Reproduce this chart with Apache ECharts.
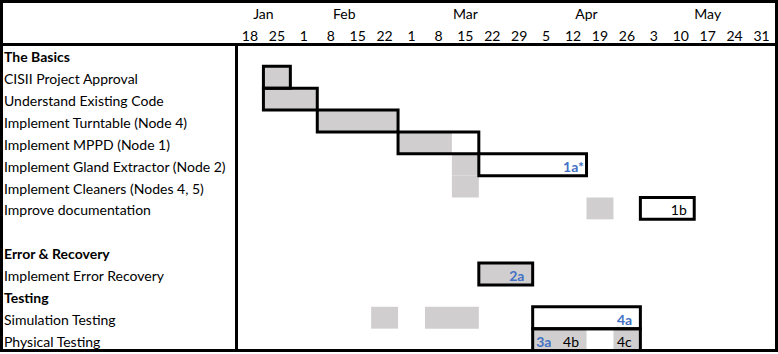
<!DOCTYPE html>
<html>
<head>
<meta charset="utf-8">
<script src="https://cdn.jsdelivr.net/npm/echarts@6/dist/echarts.min.js"></script>
<style>
html,body{margin:0;padding:0;background:#fff;}
#chart{width:778px;height:354px;}
</style>
</head>
<body>
<div id="chart"></div>
<script>
// ---- data ----
const rowLabels = [
  'The Basics',
  'CISII Project Approval',
  'Understand Existing Code',
  'Implement Turntable (Node 4)',
  'Implement MPPD (Node 1)',
  'Implement Gland Extractor (Node 2)',
  'Implement Cleaners (Nodes 4, 5)',
  'Improve documentation',
  '',
  'Error & Recovery',
  'Implement Error Recovery',
  'Testing',
  'Simulation Testing',
  'Physical Testing'
];
const sectionRows = ['The Basics', 'Error & Recovery', 'Testing'];
const weekLabels = ['18','25','1','8','15','22','1','8','15','22','29','5','12','19','26','3','10','17','24','31'];
const monthNames = ['Jan','Feb','Mar','Apr','May'];
// shaded cells: [row, firstWeek, lastWeek]
const shaded = [
  [1, 1, 1], [2, 1, 2], [3, 3, 5], [4, 6, 7], [5, 8, 8], [6, 8, 8],
  [7, 13, 13], [10, 9, 10], [12, 5, 5], [12, 7, 8], [13, 11, 12], [13, 14, 14]
];
// outlined boxes: [row, firstWeek, lastWeek]
const boxes = [
  [1, 1, 1], [2, 1, 2], [3, 3, 5], [4, 6, 8], [5, 9, 12],
  [7, 15, 16], [10, 9, 10], [12, 11, 14], [13, 11, 14]
];
// cell notes: [row, week, text]
const notes = [
  [5, 12, '1a*'], [7, 16, '1b'], [10, 10, '2a'], [12, 14, '4a'],
  [13, 11, '3a'], [13, 12, '4b'], [13, 14, '4c']
];
const blueNotes = ['1a*', '2a', '4a', '3a'];

// month spans derived from week labels (new month when the day number drops)
const monthCenters = {};
(function () {
  let m = 0, start = 0;
  for (let i = 1; i <= weekLabels.length; i++) {
    if (i === weekLabels.length || +weekLabels[i] < +weekLabels[i - 1]) {
      monthCenters[(start + i) / 2] = monthNames[m];
      m++; start = i;
    }
  }
})();

const FONT = 'Lato, "Open Sans", sans-serif';
const FS = 14;
const W = 778, H = 354;
const G = { left: 236.5, top: 44.5, right: 1.5, bottom: 3.5 };

const chart = echarts.init(document.getElementById('chart'), null, { renderer: 'svg' });

function cellRect(api, a, b, row) {
  const s = api.coord([a, row]);
  const e = api.coord([b, row]);
  const h = api.size([0, 1])[1];
  return { x: s[0], y: s[1] - h / 2, width: e[0] - s[0], height: h };
}

chart.setOption({
  animation: false,
  grid: { left: G.left, top: G.top, right: G.right, bottom: G.bottom, show: false },
  xAxis: [
    {
      type: 'category', data: weekLabels, position: 'top',
      axisLine: { show: false }, axisTick: { show: false }, splitLine: { show: false },
      axisLabel: { interval: 0, color: '#000', fontFamily: FONT, fontSize: FS, margin: 9, verticalAlign: 'middle' }
    },
    {
      type: 'value', min: 0, max: weekLabels.length, interval: 0.5, position: 'top',
      axisLine: { show: false }, axisTick: { show: false }, splitLine: { show: false },
      axisLabel: {
        color: '#000', fontFamily: FONT, fontSize: FS, margin: 31, verticalAlign: 'middle',
        showMinLabel: true, showMaxLabel: true,
        formatter: v => monthCenters[v] || ''
      }
    }
  ],
  yAxis: {
    type: 'category', data: rowLabels, inverse: true,
    axisLine: { show: false }, axisTick: { show: false }, splitLine: { show: false },
    axisLabel: {
      interval: 0, align: 'left', margin: G.left - 4, color: '#000',
      fontFamily: FONT, fontSize: FS, padding: [3, 0, 0, 0],
      formatter: v => sectionRows.includes(v) ? '{b|' + v + '}' : v,
      rich: { b: { fontWeight: 'bold', fontFamily: FONT, fontSize: FS, color: '#000' } }
    }
  },
  graphic: [
    { type: 'rect', z: 100, shape: { x: 1.5, y: 1.5, width: W - 3, height: H - 5 }, style: { fill: 'none', stroke: '#000', lineWidth: 3 } },
    { type: 'line', z: 100, shape: { x1: 0, y1: G.top, x2: W, y2: G.top }, style: { stroke: '#000', lineWidth: 3 } },
    { type: 'line', z: 100, shape: { x1: G.left, y1: G.top, x2: G.left, y2: H - 2 }, style: { stroke: '#000', lineWidth: 3 } }
  ],
  series: [
    {
      type: 'custom', xAxisIndex: 1, yAxisIndex: 0, clip: false, z: 2,
      data: shaded.map(d => [d[1], d[2] + 1, d[0]]),
      encode: { x: [0, 1], y: 2 },
      renderItem: (params, api) => ({
        type: 'rect', shape: cellRect(api, api.value(0), api.value(1), api.value(2)),
        style: { fill: '#D0CECE' }
      })
    },
    {
      type: 'custom', xAxisIndex: 1, yAxisIndex: 0, clip: false, z: 3,
      data: boxes.map(d => [d[1], d[2] + 1, d[0]]),
      encode: { x: [0, 1], y: 2 },
      renderItem: (params, api) => ({
        type: 'rect', shape: cellRect(api, api.value(0), api.value(1), api.value(2)),
        style: { fill: 'none', stroke: '#000', lineWidth: 3 }
      })
    },
    {
      type: 'custom', xAxisIndex: 1, yAxisIndex: 0, clip: false, z: 4,
      data: notes.map(d => [d[1], d[0]]),
      encode: { x: 0, y: 1 },
      renderItem: (params, api) => {
        const t = notes[params.dataIndex][2];
        const p = api.coord([api.value(0), api.value(1)]);
        const blue = blueNotes.includes(t);
        return {
          type: 'text', x: p[0] + 3.5, y: p[1] + 1.5,
          style: {
            text: t, fill: blue ? '#4472C4' : '#000',
            font: (blue ? 'bold ' : '') + FS + 'px ' + FONT,
            verticalAlign: 'middle', align: 'left'
          }
        };
      }
    }
  ]
});
</script>
</body>
</html>
